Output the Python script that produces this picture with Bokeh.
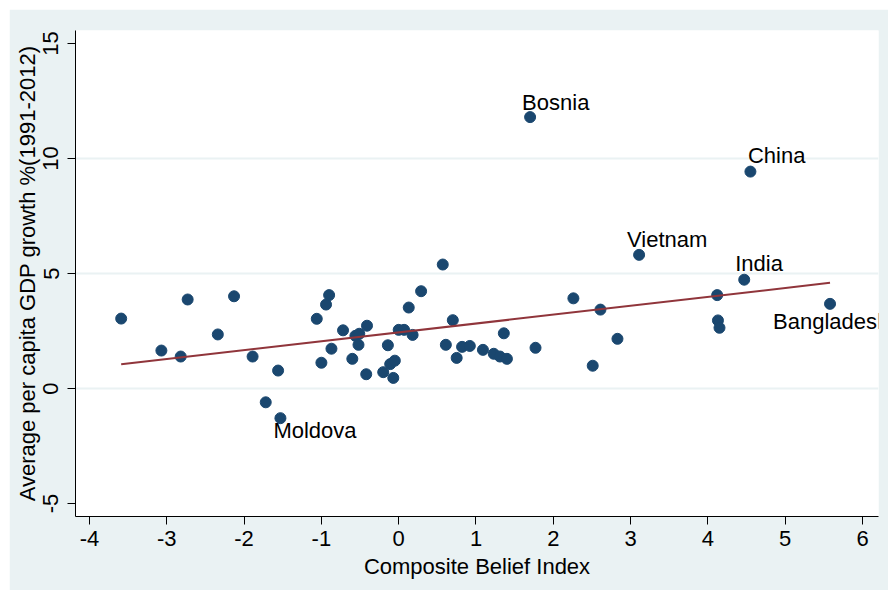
import numpy as np
from bokeh.plotting import figure
from bokeh.models import ColumnDataSource, LabelSet, FixedTicker, Range1d
from bokeh.core.properties import value
from bokeh.embed import file_html
from bokeh.resources import INLINE

# ---- data ----
belief = [-3.59, -3.07, -2.82, -2.73, -2.34, -2.13, -1.89, -1.56, -1.72, -1.53,
          -1.06, -0.90, -0.94, -1.00, -0.87, -0.72, -0.60, -0.56, -0.51, -0.52,
          -0.41, -0.42, -0.20, -0.14, -0.11, -0.05, -0.07, 0.00, 0.07, 0.18,
          0.13, 0.29, 0.57, 0.70, 0.61, 0.75, 0.82, 0.92, 1.09, 1.23,
          1.31, 1.40, 1.36, 1.77, 2.26, 2.61, 2.83, 2.51, 3.11, 4.12,
          4.13, 4.15, 4.47, 4.55, 5.58, 1.70]
growth = [3.04, 1.65, 1.39, 3.87, 2.35, 4.01, 1.39, 0.78, -0.60, -1.29,
          3.03, 4.06, 3.65, 1.12, 1.73, 2.53, 1.29, 2.29, 2.38, 1.90,
          2.73, 0.62, 0.71, 1.88, 1.06, 1.21, 0.46, 2.55, 2.55, 2.33,
          3.52, 4.23, 5.39, 2.97, 1.90, 1.33, 1.81, 1.85, 1.68, 1.51,
          1.39, 1.29, 2.40, 1.77, 3.92, 3.43, 2.16, 0.99, 5.81, 4.06,
          2.96, 2.64, 4.73, 9.43, 3.68, 11.80]
country = [""] * 56
country[9] = "Moldova"
country[48] = "Vietnam"
country[52] = "India"
country[53] = "China"
country[54] = "Bangladesh"
country[55] = "Bosnia"

x_ticks = [-4, -3, -2, -1, 0, 1, 2, 3, 4, 5, 6]
y_ticks = [-5, 0, 5, 10, 15]
grid_ticks = [0, 5, 10]
x_title = "Composite Belief Index"
y_title = "Average per capita GDP growth %(1991-2012)"

# ---- styles ----
BG = "#eaf2f3"
NAVY = "#1a476f"
MAROON = "#90353b"
FONT = "Liberation Sans"
FS = "22px"
label_offsets = {  # (x px, y px up) of each marker label
    "Bosnia": (-8, 7), "China": (-2.5, 9), "Vietnam": (-12, 8),
    "India": (-9, 9), "Bangladesh": (-57, -25), "Moldova": (-7, -20),
}

p = figure(width=879, height=581, margin=(9, 0, 0, 9),
           x_range=Range1d(-4.181, 6.207), y_range=Range1d(-5.565, 15.565),
           output_backend="svg", toolbar_location=None,
           min_border_left=66, min_border_top=21, min_border_right=10, min_border_bottom=74)
p.border_fill_color = BG
p.background_fill_color = "white"
p.outline_line_color = None

p.xgrid.visible = False
p.ygrid.ticker = FixedTicker(ticks=grid_ticks)
p.ygrid.grid_line_color = BG
p.ygrid.grid_line_width = 2

p.xaxis.ticker = FixedTicker(ticks=x_ticks)
p.yaxis.ticker = FixedTicker(ticks=y_ticks)
p.xaxis.major_label_overrides = {t: str(t) for t in x_ticks}
p.yaxis.major_label_overrides = {t: str(t) for t in y_ticks}
for ax in (p.xaxis, p.yaxis):
    ax.axis_line_color = "black"
    ax.axis_line_width = 1
    ax.major_tick_line_color = "black"
    ax.major_tick_out = 8
    ax.major_tick_in = 0
    ax.minor_tick_line_color = None
    ax.major_label_text_font = FONT
    ax.major_label_text_font_size = FS
    ax.major_label_text_color = "black"
    ax.axis_label_text_font = FONT
    ax.axis_label_text_font_size = FS
    ax.axis_label_text_font_style = "normal"
    ax.axis_label_text_color = "black"
p.xaxis.major_label_standoff = 6
p.xaxis.axis_label_standoff = 5
p.yaxis.major_label_standoff = 9
p.yaxis.axis_label_standoff = 1
p.yaxis.major_label_orientation = "vertical"
p.xaxis.axis_label = x_title
p.yaxis.axis_label = y_title

src = ColumnDataSource(dict(x=belief, y=growth))
p.scatter("x", "y", source=src, size=11, fill_color=NAVY, line_color=NAVY)

# linear fit over the data range
coef = np.polyfit(belief, growth, 1)
fx = [min(belief), max(belief)]
fy = list(np.polyval(coef, fx))
p.line(fx, fy, line_color=MAROON, line_width=2)

lab = [i for i, c in enumerate(country) if c]
lsrc = ColumnDataSource(dict(
    x=[belief[i] for i in lab], y=[growth[i] for i in lab],
    t=[country[i] for i in lab],
    xo=[label_offsets[country[i]][0] for i in lab],
    yo=[label_offsets[country[i]][1] for i in lab]))
p.add_layout(LabelSet(x="x", y="y", text="t", source=lsrc,
                      x_offset="xo", y_offset="yo",
                      text_font=value(FONT), text_font_size=value(FS),
                      text_color="black",
                      text_baseline="alphabetic", text_align="left"))

open("out.html", "w").write(file_html(p, INLINE))
